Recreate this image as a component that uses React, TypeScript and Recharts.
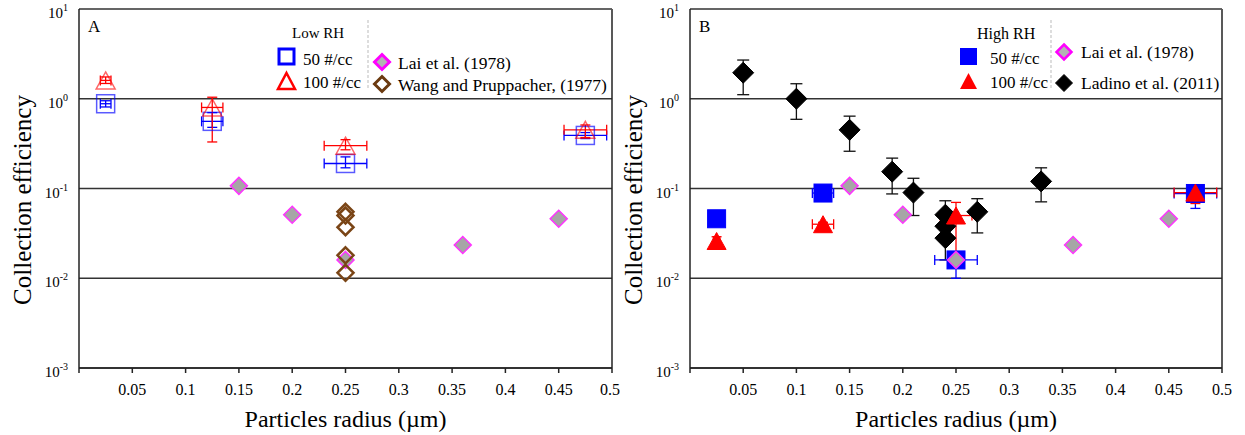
import {
  ScatterChart,
  Scatter,
  XAxis,
  YAxis,
  CartesianGrid,
  ErrorBar,
  ReferenceLine,
} from "recharts";

const FONT = "'Liberation Serif', 'Times New Roman', serif";

const xTicks = [0, 0.05, 0.1, 0.15, 0.2, 0.25, 0.3, 0.35, 0.4, 0.45, 0.5];
const yTicks = [0.001, 0.01, 0.1, 1, 10];

// panel A – low RH
const lowRh50 = [
  { r: 0.025, ce: 0.88, rErr: 0.005, ceErr: [0.07, 0.07] },
  { r: 0.125, ce: 0.56, rErr: 0.01, ceErr: [0.08, 0.14] },
  { r: 0.25, ce: 0.19, rErr: 0.02, ceErr: [0.02, 0.035] },
  { r: 0.475, ce: 0.39, rErr: 0.02, ceErr: [0.03, 0.03] },
];
const lowRh100 = [
  { r: 0.025, ce: 1.6, rErr: 0.005, ceErr: [0.12, 0.15] },
  { r: 0.125, ce: 0.8, rErr: 0.01, ceErr: [0.47, 0.24] },
  { r: 0.25, ce: 0.3, rErr: 0.02, ceErr: [0.03, 0.05] },
  { r: 0.475, ce: 0.45, rErr: 0.02, ceErr: [0.08, 0.06] },
];
const wangPruppacher = [
  { r: 0.25, ce: 0.055 },
  { r: 0.25, ce: 0.05 },
  { r: 0.25, ce: 0.037 },
  { r: 0.25, ce: 0.018 },
  { r: 0.25, ce: 0.0115 },
];

// shared
const laiEtAl = [
  { r: 0.15, ce: 0.107 },
  { r: 0.2, ce: 0.051 },
  { r: 0.25, ce: 0.016 },
  { r: 0.36, ce: 0.0235 },
  { r: 0.45, ce: 0.046 },
];

// panel B – high RH
const highRh50 = [
  { r: 0.025, ce: 0.046, rErr: 0.003, ceErr: [0.006, 0.004] },
  { r: 0.125, ce: 0.089, rErr: 0.01, ceErr: [0.005, 0.005] },
  { r: 0.25, ce: 0.016, rErr: 0.02, ceErr: [0.006, 0.003] },
  { r: 0.475, ce: 0.088, rErr: 0.02, ceErr: [0.028, 0.008] },
];
const highRh100 = [
  { r: 0.025, ce: 0.026, rErr: 0.003, ceErr: [0.003, 0.003] },
  { r: 0.125, ce: 0.04, rErr: 0.01, ceErr: [0.002, 0.002] },
  { r: 0.25, ce: 0.05, rErr: 0.015, ceErr: [0.034, 0.02] },
  { r: 0.475, ce: 0.09, rErr: 0.02, ceErr: [0.022, 0.005] },
];
const ladinoEtAl = [
  { r: 0.05, ce: 1.95, ceErr: [0.84, 0.75] },
  { r: 0.1, ce: 1.0, ceErr: [0.41, 0.47] },
  { r: 0.15, ce: 0.45, ceErr: [0.19, 0.19] },
  { r: 0.19, ce: 0.154, ceErr: [0.067, 0.064] },
  { r: 0.21, ce: 0.09, ceErr: [0.04, 0.04] },
  { r: 0.24, ce: 0.051, ceErr: [0.012, 0.022] },
  { r: 0.24, ce: 0.038, ceErr: [0.01, 0.015] },
  { r: 0.24, ce: 0.028, ceErr: [0.012, 0.01] },
  { r: 0.27, ce: 0.055, ceErr: [0.023, 0.022] },
  { r: 0.33, ce: 0.12, ceErr: [0.049, 0.05] },
];

const square = (size: number, fill: string, stroke: string, sw: number, op = 1) =>
  (p: any) => (
    <rect x={p.cx - size / 2} y={p.cy - size / 2} width={size} height={size}
      fill={fill} stroke={stroke} strokeWidth={sw} strokeOpacity={op} />
  );

const triangle = (w: number, h: number, fill: string, stroke: string, sw: number, op = 1) =>
  (p: any) => (
    <polygon
      points={`${p.cx},${p.cy - h / 2} ${p.cx + w / 2},${p.cy + h / 2} ${p.cx - w / 2},${p.cy + h / 2}`}
      fill={fill} stroke={stroke} strokeWidth={sw} strokeOpacity={op} />
  );

const diamond = (s: number, fill: string, stroke: string, sw: number) =>
  (p: any) => (
    <polygon
      points={`${p.cx},${p.cy - s / 2} ${p.cx + s / 2},${p.cy} ${p.cx},${p.cy + s / 2} ${p.cx - s / 2},${p.cy}`}
      fill={fill} stroke={stroke} strokeWidth={sw} />
  );

function PowerTick({ x, y, payload }: any) {
  const exp = Math.round(Math.log10(payload.value));
  return (
    <text x={x - 3} y={y + 9} textAnchor="end" fontFamily={FONT} fill="#000">
      <tspan fontSize={15}>10</tspan>
      <tspan fontSize={10} dy={-7}>{exp}</tspan>
    </text>
  );
}

function Panel({ yWidth, right, letter, children }: any) {
  return (
    <ScatterChart width={620} height={435} margin={{ top: 9, right, bottom: 0, left: 0 }}>
      <CartesianGrid vertical={false} stroke="#333" strokeWidth={1.3} />
      <XAxis
        dataKey="r" type="number" domain={[0, 0.5]} ticks={xTicks}
        tickFormatter={(v: number) => (v === 0 ? "" : String(v))}
        height={67} tickSize={5} tickMargin={11} stroke="#222" strokeWidth={1.5}
        tick={{ fontFamily: FONT, fontSize: 16, fill: "#000" }}
        label={{ value: "Particles radius (\u00b5m)", position: "insideBottom", offset: 8,
          style: { fontFamily: FONT, fontSize: 24, fill: "#000" } }}
      />
      <YAxis
        dataKey="ce" type="number" scale="log" domain={[0.001, 10]} ticks={yTicks}
        allowDataOverflow width={yWidth} tickLine={false} stroke="#222" strokeWidth={1.5}
        tick={<PowerTick />}
        label={{
          content: () => (
            <text x={yWidth - 57} y={200} transform={`rotate(-90 ${yWidth - 57} 200)`}
              textAnchor="middle" dominantBaseline="central" fontFamily={FONT} fontSize={25} fill="#000">
              Collection efficiency
            </text>
          ),
        }}
      />
      <ReferenceLine x={0.5} stroke="#222" strokeWidth={1.5} />
      <ReferenceLine y={10} stroke="#666" strokeWidth={1.5} />
      {children}
      <text x={yWidth + 9} y={32} fontFamily={FONT} fontSize={17} fill="#000">{letter}</text>
    </ScatterChart>
  );
}

function LegendText({ x, y, size, children }: any) {
  return (
    <text x={x} y={y} dominantBaseline="central" fontFamily={FONT} fontSize={size} fill="#000">
      {children}
    </text>
  );
}

function LegendA() {
  return (
    <svg width={620} height={110} style={{ position: "absolute", left: 0, top: 0 }}>
      <LegendText x={292} y={33} size={15}>Low RH</LegendText>
      <rect x={279} y={49} width={15} height={15} fill="none" stroke="#0000ff" strokeWidth={3} />
      <LegendText x={303} y={59} size={17}>50 #/cc</LegendText>
      <polygon points="286.5,73 295,89 278,89" fill="none" stroke="#ff0000" strokeWidth={2.5} />
      <LegendText x={303} y={82} size={17}>100 #/cc</LegendText>
      <line x1={368} y1={20} x2={368} y2={90} stroke="#bbb" strokeDasharray="3 2" />
      {diamond(15, "#b3b3b3", "#ff00ff", 3)({ cx: 382, cy: 62 })}
      <LegendText x={398} y={63} size={17.5}>Lai et al. (1978)</LegendText>
      {diamond(15, "#fff", "#6b3a10", 3)({ cx: 382, cy: 84 })}
      <LegendText x={398} y={85} size={17.5}>Wang and Pruppacher, (1977)</LegendText>
    </svg>
  );
}

function LegendB() {
  return (
    <svg width={620} height={110} style={{ position: "absolute", left: 0, top: 0 }}>
      <LegendText x={357} y={33} size={16}>High RH</LegendText>
      <rect x={340} y={48} width={17} height={17} fill="#0000ff" />
      <LegendText x={370} y={58} size={17}>50 #/cc</LegendText>
      <polygon points="348.5,73 357,89 340,89" fill="#ff0000" />
      <LegendText x={370} y={82} size={17}>100 #/cc</LegendText>
      <line x1={431} y1={20} x2={431} y2={90} stroke="#bbb" strokeDasharray="3 2" />
      {diamond(15, "#b3b3b3", "#ff00ff", 2.5)({ cx: 444, cy: 52 })}
      <LegendText x={461} y={52} size={17.5}>Lai et al. (1978)</LegendText>
      {diamond(17, "#000", "#000", 1)({ cx: 444, cy: 83 })}
      <LegendText x={461} y={83} size={17.5}>Ladino et al. (2011)</LegendText>
    </svg>
  );
}

export default function App() {
  return (
    <div style={{ position: "absolute", left: 0, top: 0, width: 1245, height: 435, background: "#fff" }}>
      <div style={{ position: "absolute", left: 0, top: 0 }}>
        <Panel yWidth={79} right={8} letter="A">
          <Scatter data={laiEtAl} isAnimationActive={false} shape={diamond(17, "#a6a6a6", "#ff33ff", 1.5)} />
          <Scatter data={wangPruppacher} isAnimationActive={false} shape={diamond(16, "none", "#7a4516", 2.5)} />
          <Scatter data={lowRh50} isAnimationActive={false} shape={square(18, "none", "#0000ff", 1.5, 0.65)}>
            <ErrorBar dataKey="rErr" direction="x" width={5} stroke="#0000ff" strokeWidth={1.3} isAnimationActive={false} />
            <ErrorBar dataKey="ceErr" direction="y" width={5} stroke="#0000ff" strokeWidth={1.3} isAnimationActive={false} />
          </Scatter>
          <Scatter data={lowRh100} isAnimationActive={false} shape={triangle(19, 17, "none", "#ff0000", 1.5, 0.6)}>
            <ErrorBar dataKey="rErr" direction="x" width={5} stroke="#ff0000" strokeWidth={1.3} isAnimationActive={false} />
            <ErrorBar dataKey="ceErr" direction="y" width={5} stroke="#ff0000" strokeWidth={1.3} isAnimationActive={false} />
          </Scatter>
        </Panel>
        <LegendA />
      </div>
      <div style={{ position: "absolute", left: 620, top: 0 }}>
        <Panel yWidth={70} right={18} letter="B">
          <Scatter data={ladinoEtAl} isAnimationActive={false} shape={diamond(21, "#000", "#000", 1)}>
            <ErrorBar dataKey="ceErr" direction="y" width={6} stroke="#111" strokeWidth={1.3} isAnimationActive={false} />
          </Scatter>
          <Scatter data={highRh50} isAnimationActive={false} shape={square(18, "#0000ff", "#0000ff", 1)}>
            <ErrorBar dataKey="rErr" direction="x" width={5} stroke="#0000ff" strokeWidth={1.3} isAnimationActive={false} />
            <ErrorBar dataKey="ceErr" direction="y" width={5} stroke="#0000ff" strokeWidth={1.3} isAnimationActive={false} />
          </Scatter>
          <Scatter data={highRh100} isAnimationActive={false} shape={triangle(19, 17, "#ff0000", "#ff0000", 1)}>
            <ErrorBar dataKey="rErr" direction="x" width={5} stroke="#ff0000" strokeWidth={1.3} isAnimationActive={false} />
            <ErrorBar dataKey="ceErr" direction="y" width={5} stroke="#ff0000" strokeWidth={1.3} isAnimationActive={false} />
          </Scatter>
          <Scatter data={laiEtAl} isAnimationActive={false} shape={diamond(17, "#a6a6a6", "#ff33ff", 1.5)} />
        </Panel>
        <LegendB />
      </div>
    </div>
  );
}
